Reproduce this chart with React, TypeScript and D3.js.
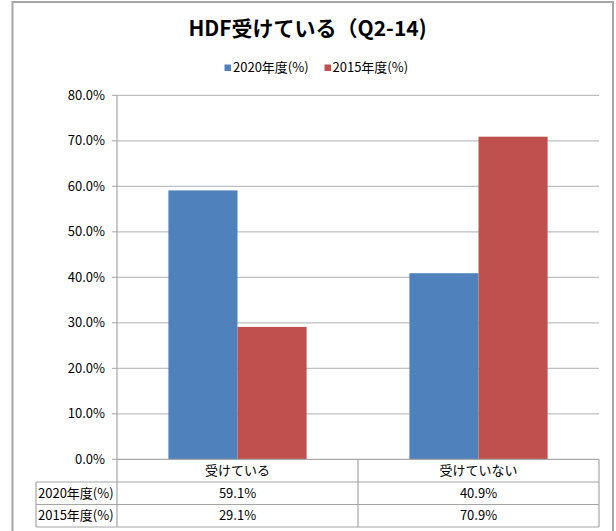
import React from "react";
import * as d3 from "d3";

const title = "HDF受けている（Q2-14)";
const categories = ["受けている", "受けていない"];
const seriesNames = ["2020年度(%)", "2015年度(%)"];
const values2020 = [59.1, 40.9];
const values2015 = [29.1, 70.9];
const tableLabels2020 = ["59.1%", "40.9%"];
const tableLabels2015 = ["29.1%", "70.9%"];
const yTicks = [0, 10, 20, 30, 40, 50, 60, 70, 80];
const colors = ["#4F81BD", "#C0504D"];

const W = 616;
const H = 531;
const FONT = "'Noto Sans CJK JP', 'Noto Sans', sans-serif";

export default function App() {
  const plotLeft = 117;
  const plotRight = 599;
  const plotTop = 95.3;
  const plotBottom = 459.3;
  const tableLeft = 36;
  const row1 = 482;
  const row2 = 504.5;
  const row3 = 527;

  const x = d3.scaleBand<string>().domain(categories).range([plotLeft, plotRight]).padding(0);
  const xs = d3
    .scaleBand<string>()
    .domain(seriesNames)
    .range([0, x.bandwidth()])
    .paddingInner(0)
    .paddingOuter(0.744);
  const y = d3.scaleLinear().domain([0, 80]).range([plotBottom, plotTop]);
  const series = [values2020, values2015];
  const tableRows = [tableLabels2020, tableLabels2015];

  const gridColor = "#BFBFBF";
  const tableColor = "#A6A6A6";

  const legendY = 68;
  const legendItems = [
    { x: 224.5, textX: 233 },
    { x: 324.5, textX: 332.5 },
  ];

  return (
    <svg width={W} height={H} style={{ display: "block", position: "absolute", left: 0, top: 0 }} fontFamily={FONT}>
      <rect x={0} y={0} width={W} height={H} fill="#fff" />
      <rect x={12.5} y={2} width={600.5} height={560} fill="#fff" stroke="#A6A6A6" strokeWidth={2} />
      <text x={307.5} y={35.7} textAnchor="middle" fontSize={21} fontWeight="bold" fill="#000">
        {title}
      </text>
      {seriesNames.map((s, i) => (
        <g key={s}>
          <rect x={legendItems[i].x} y={legendY - 3.5} width={6.5} height={6.5} fill={colors[i]} />
          <text x={legendItems[i].textX} y={legendY + 4.3} fontSize={13} fill="#000">
            {s}
          </text>
        </g>
      ))}
      {yTicks.map((t) => (
        <g key={t}>
          {t > 0 && (
            <line x1={plotLeft} x2={plotRight} y1={y(t)} y2={y(t)} stroke={gridColor} strokeWidth={1.2} />
          )}
          <line x1={plotLeft - 5} x2={plotLeft} y1={y(t)} y2={y(t)} stroke={tableColor} strokeWidth={1} />
          <text x={105} y={y(t) + 4.3} textAnchor="end" fontSize={13} fill="#000">
            {t.toFixed(1) + "%"}
          </text>
        </g>
      ))}
      {categories.map((c, ci) =>
        seriesNames.map((s, si) => (
          <rect
            key={c + s}
            x={(x(c) as number) + (xs(s) as number)}
            y={y(series[si][ci])}
            width={xs.bandwidth()}
            height={plotBottom - y(series[si][ci])}
            fill={colors[si]}
          />
        ))
      )}
      <line x1={plotLeft} x2={plotLeft} y1={plotTop} y2={row3} stroke={tableColor} strokeWidth={1.2} />
      <line x1={plotLeft} x2={plotRight} y1={plotBottom} y2={plotBottom} stroke={tableColor} strokeWidth={1.2} />
      {[row1, row2, row3].map((r) => (
        <line key={r} x1={tableLeft} x2={plotRight} y1={r} y2={r} stroke={tableColor} strokeWidth={1.2} />
      ))}
      <line x1={tableLeft} x2={tableLeft} y1={row1} y2={row3} stroke={tableColor} strokeWidth={1.2} />
      {categories.map((c) => (
        <line
          key={"v" + c}
          x1={(x(c) as number) + x.bandwidth()}
          x2={(x(c) as number) + x.bandwidth()}
          y1={plotBottom}
          y2={row3}
          stroke={tableColor}
          strokeWidth={1.2}
        />
      ))}
      {categories.map((c) => (
        <text
          key={"t" + c}
          x={(x(c) as number) + x.bandwidth() / 2}
          y={(plotBottom + row1) / 2 + 4.5}
          textAnchor="middle"
          fontSize={13}
          fill="#000"
        >
          {c}
        </text>
      ))}
      {seriesNames.map((s, si) => {
        const top = si === 0 ? row1 : row2;
        const bot = si === 0 ? row2 : row3;
        const cy = (top + bot) / 2 + 4.5;
        return (
          <g key={"row" + s}>
            <text x={38} y={cy} fontSize={13} fill="#000">
              {s}
            </text>
            {categories.map((c, ci) => (
              <text
                key={c}
                x={(x(c) as number) + x.bandwidth() / 2}
                y={cy}
                textAnchor="middle"
                fontSize={13}
                fill="#000"
              >
                {tableRows[si][ci]}
              </text>
            ))}
          </g>
        );
      })}
    </svg>
  );
}
